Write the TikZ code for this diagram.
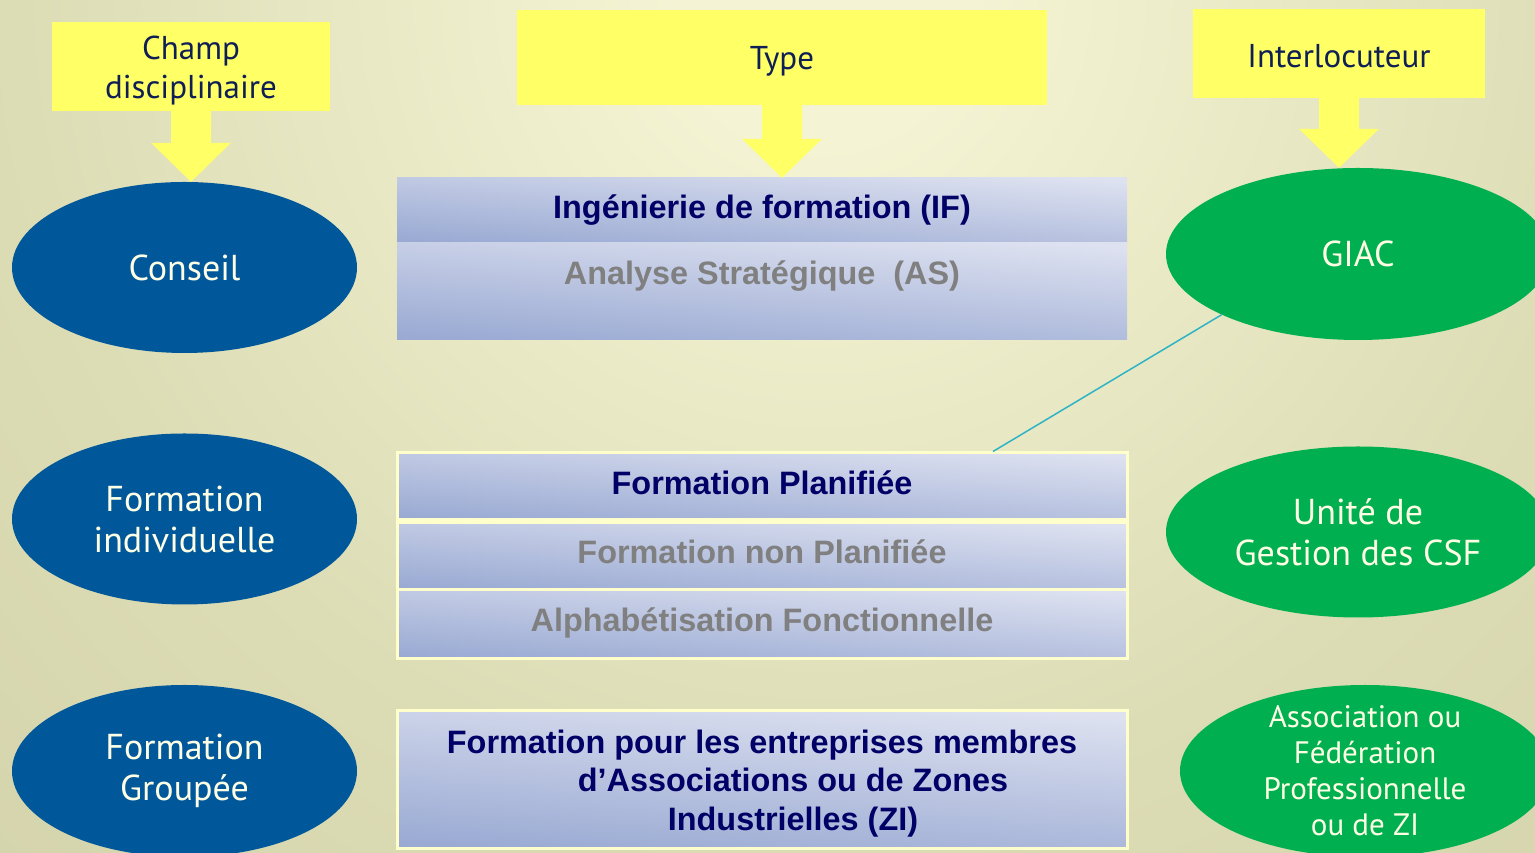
\documentclass[tikz,border=0pt]{standalone}
\usepackage{fontspec}
\usetikzlibrary{shapes.geometric,calc}

\newfontfamily\tahfont{PT Sans}
\newfontfamily\arfont{Liberation Sans}

\definecolor{bgtop}{HTML}{F4F4D4}
\definecolor{bgmid}{HTML}{DCDCB5}
\definecolor{bgside}{HTML}{CCCBA3}
\definecolor{bgdark}{HTML}{B5B288}
\definecolor{hdryellow}{HTML}{FFFF66}
\definecolor{hdrtext}{HTML}{0F1F55}
\definecolor{ellblue}{HTML}{00589A}
\definecolor{ellgreen}{HTML}{00B050}
\definecolor{elltext}{HTML}{FFFFE6}
\definecolor{rowlight}{HTML}{DDE1F0}
\definecolor{rowdark}{HTML}{9AAAD3}
\definecolor{rowedge}{HTML}{FFFFCC}
\definecolor{navytext}{HTML}{000066}
\definecolor{graytext}{HTML}{808080}
\definecolor{linkteal}{HTML}{2EB4C4}

\pgfdeclareradialshading{bgshade}{\pgfpoint{0bp}{0bp}}{color(0bp)=(bgtop); color(3bp)=(bgtop);
    color(16bp)=(bgmid); color(34bp)=(bgside); color(50bp)=(bgdark)}

% yellow block arrow from a header down to its target
\newcommand\blockarrow[2]{%
  \fill[hdryellow] let \p1=(#1.south), \p2=(#2.north) in
    (\x1-20,\y1) -- (\x1+20,\y1) -- (\x1+20,\y2+39) -- (\x1+40,\y2+39)
    -- (\x1,\y2) -- (\x1-40,\y2+39) -- (\x1-20,\y2+39) -- cycle;}

\begin{document}
\begin{tikzpicture}[x=1pt, y=1pt,
        header/.style = {fill=hdryellow, text=hdrtext, align=center, inner sep=0pt,
                         font=\tahfont\fontsize{33}{39}\selectfont},
        ell/.style = {ellipse, fill=#1, text=elltext, align=center, inner sep=0pt,
                      font=\tahfont\fontsize{36}{41}\selectfont},
        row/.style = {rectangle, minimum width=730pt, inner sep=0pt, align=center,
                      top color=rowlight, bottom color=rowdark, shading angle=-4,
                      font=\arfont\bfseries\fontsize{32.4}{38.5}\selectfont},
        framed/.style = {draw=rowedge, line width=3pt}
        ]

        \useasboundingbox (0,0) rectangle (1535,853);
        \begin{scope}
            \clip (0,0) rectangle (1535,853);
            \shade[shading=bgshade] (820,860) circle (1250);
        \end{scope}

        % headers
        \node (champ) at (191,786.5) [header, minimum width=278pt, minimum height=89pt] {\rule{0pt}{32pt}Champ\\disciplinaire};
        \node (type) at (782,795.5) [header, minimum width=530pt, minimum height=95pt] {\rule{0pt}{31pt}Type};
        \node (interloc) at (1339,799.5) [header, minimum width=292pt, minimum height=89pt] {\rule{0pt}{28pt}Interlocuteur};

        % champ disciplinaire
        \node (conseil) at (184.5,585.5) [ell=ellblue, minimum width=345pt, minimum height=171pt] {Conseil};
        \node (findiv) at (184.5,334) [ell=ellblue, minimum width=345pt, minimum height=171pt] {Formation\\individuelle};
        \node (fgroup) at (184.5,82) [ell=ellblue, minimum width=345pt, minimum height=172pt] {Formation\\Groupée};

        % interlocuteurs
        \node (giac) at (1358,599) [ell=ellgreen, minimum width=384pt, minimum height=172pt] {GIAC};
        \node (ugcsf) at (1358,321) [ell=ellgreen, minimum width=384pt, minimum height=171pt] {Unité de\\Gestion des CSF};
        \node (assoc) at (1365,82) [ell=ellgreen, minimum width=370pt, minimum height=172pt, inner ysep=-15pt,
                                    font=\tahfont\fontsize{31}{36}\selectfont] {Association ou\\Fédération\\Professionnelle\\ou de ZI};

        % types
        \node (if) at (762,642.5) [row, minimum height=65pt, text=navytext] {Ingénierie de formation (IF)};
        \node (as) at (762,561.5) [row, minimum height=97pt] {};
        \node (astext) at (762,577) [text=graytext, font=\arfont\bfseries\fontsize{32.4}{38.5}\selectfont] {Analyse Stratégique\ \ (AS)};

        \node (fp) at (762,366.5) [row, framed, minimum height=67pt, text depth=8pt, text=navytext] {Formation Planifiée};
        \node (fnp) at (762,296.5) [row, framed, minimum height=67pt, text depth=9pt, text=graytext] {Formation non Planifiée};
        \node (af) at (762,228.5) [row, framed, minimum height=69pt, text depth=10.5pt, text=graytext] {Alphabétisation Fonctionnelle};

        \node (fzi) at (762,73) [row, framed, minimum height=138pt, text=navytext]
            {\rule{0pt}{30pt}Formation pour les entreprises membres\\\hspace*{62pt}d’Associations ou de Zones\\\hspace*{62pt}Industrielles (ZI)};

        \blockarrow{champ}{conseil}
        \blockarrow{type}{if}
        \blockarrow{interloc}{giac}

        \draw[linkteal, line width=1.5pt] ($(fp.north)+(231,0)$) -- (giac.204);

    \end{tikzpicture}
\end{document}
